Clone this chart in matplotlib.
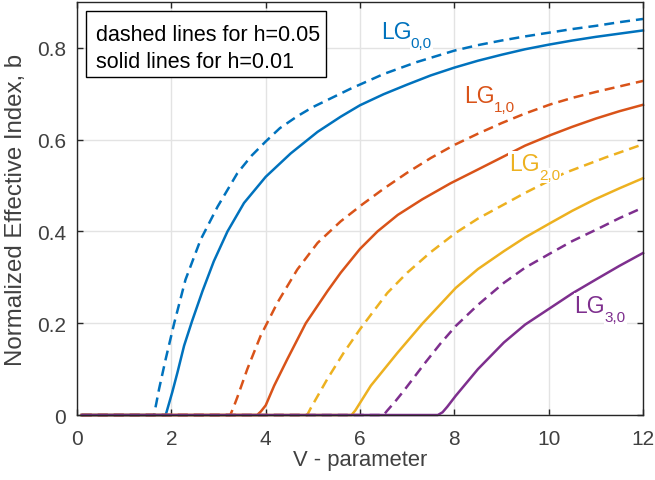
import matplotlib
matplotlib.use('Agg')
import matplotlib.pyplot as plt
from matplotlib.patches import Rectangle

plt.rcParams['font.family'] = ['Liberation Sans', 'DejaVu Sans']

# LG(0,0)
v00_h05 = [0.1, 1.63, 1.68, 1.74, 1.88, 2.06, 2.30, 2.62, 2.98, 3.40, 3.7, 4.0, 4.3, 4.67, 5.0, 5.38, 5.8,
           6.5, 7.2, 8.0, 8.5, 9.0, 9.5, 10.0, 10.5, 11.0, 11.5, 12.0]
b00_h05 = [0, 0, 0.025, 0.057, 0.122, 0.2, 0.295, 0.382, 0.454, 0.527, 0.565, 0.596, 0.625, 0.651, 0.671, 0.69, 0.711,
           0.743, 0.769, 0.794, 0.806, 0.816, 0.825, 0.833, 0.841, 0.848, 0.856, 0.863]
v00_h01 = [0.1, 1.88, 1.95, 2.02, 2.13, 2.27, 2.44, 2.66, 2.90, 3.19, 3.54, 4.0, 4.53, 5.10, 5.59, 6.0,
           6.5, 7.0, 7.5, 8.0, 8.5, 9.0, 9.5, 10.0, 10.5, 11.0, 11.5, 12.0]
b00_h01 = [0, 0, 0.025, 0.05, 0.093, 0.151, 0.205, 0.27, 0.335, 0.4, 0.462, 0.519, 0.57, 0.617, 0.65, 0.675,
           0.699, 0.72, 0.74, 0.757, 0.772, 0.785, 0.797, 0.807, 0.816, 0.824, 0.831, 0.838]

# LG(1,0)
v10_h05 = [0.1, 3.25, 3.33, 3.40, 3.61, 3.89, 4.25, 4.67, 5.10, 5.59, 6.05, 6.5, 7.0, 7.5, 7.99,
           8.5, 9.0, 9.5, 10.04, 10.5, 11.0, 11.5, 12.0]
b10_h05 = [0, 0, 0.02, 0.039, 0.1, 0.172, 0.245, 0.317, 0.375, 0.422, 0.459, 0.493, 0.528, 0.56, 0.588,
           0.613, 0.636, 0.657, 0.677, 0.691, 0.704, 0.716, 0.728]
v10_h01 = [0.1, 3.82, 3.9, 4.0, 4.18, 4.46, 4.85, 5.31, 5.59, 6.0, 6.37, 6.8, 7.32, 7.92, 8.5,
           9.0, 9.5, 10.04, 10.5, 11.0, 11.5, 12.0]
b10_h01 = [0, 0, 0.008, 0.021, 0.064, 0.122, 0.2, 0.27, 0.31, 0.362, 0.4, 0.436, 0.47, 0.505, 0.535,
           0.561, 0.587, 0.61, 0.628, 0.646, 0.662, 0.676]

# LG(2,0)
v20_h05 = [0.1, 4.88, 4.95, 5.31, 5.65, 6.0, 6.3, 6.58, 7.0, 7.5, 8.03, 8.5, 8.84, 9.5, 10.33, 11.2, 12.0]
b20_h05 = [0, 0, 0.014, 0.079, 0.135, 0.187, 0.228, 0.266, 0.31, 0.355, 0.397, 0.428, 0.447, 0.484, 0.527, 0.561, 0.59]
v20_h01 = [0.1, 5.82, 5.9, 6.23, 6.79, 7.33, 8.03, 8.5, 9.05, 9.5, 10.03, 10.5, 10.96, 11.5, 12.0]
b20_h01 = [0, 0, 0.01, 0.064, 0.135, 0.2, 0.277, 0.318, 0.357, 0.387, 0.418, 0.445, 0.469, 0.494, 0.516]

# LG(3,0)
v30_h05 = [0.1, 6.5, 6.58, 6.75, 6.93, 7.39, 7.7, 8.03, 8.5, 9.05, 9.5, 10.03, 10.5, 11.03, 11.5, 12.0]
b30_h05 = [0, 0, 0.01, 0.03, 0.053, 0.115, 0.155, 0.194, 0.24, 0.288, 0.321, 0.352, 0.379, 0.405, 0.429, 0.452]
v30_h01 = [0.1, 7.65, 7.75, 7.85, 8.03, 8.5, 9.05, 9.5, 10.03, 10.5, 11.03, 11.5, 12.0]
b30_h01 = [0, 0, 0.006, 0.018, 0.042, 0.1, 0.158, 0.197, 0.233, 0.265, 0.297, 0.325, 0.353]

modes = ['0,0', '1,0', '2,0', '3,0']
colors = ['#0072BD', '#D95319', '#EDB120', '#7E2F8E']
curves = [
    (v00_h05, b00_h05, v00_h01, b00_h01),
    (v10_h05, b10_h05, v10_h01, b10_h01),
    (v20_h05, b20_h05, v20_h01, b20_h01),
    (v30_h05, b30_h05, v30_h01, b30_h01),
]
# baseline-left of each mode name (V, b)
label_pos = [(6.44, 0.822), (8.21, 0.683), (9.16, 0.534), (10.55, 0.2245)]

fig = plt.figure(figsize=(6.55, 4.81), dpi=100)
ax = fig.add_axes([0.1176, 0.1351, 0.8641, 0.8587])

for (vd, bd, vs, bs), c in zip(curves, colors):
    ax.plot(vd, bd, color=c, lw=1.8, dashes=(4, 2.4), clip_on=False)
    ax.plot(vs, bs, '-', color=c, lw=1.8, clip_on=False)

white = dict(facecolor='white', edgecolor='none', pad=0.5)
for m, c, (x, y) in zip(modes, colors, label_pos):
    ax.text(x, y, 'LG', color=c, fontsize=16.5, va='baseline', ha='left', bbox=white)
    ax.annotate(m, xy=(x, y), xytext=(21.6, -6.8), textcoords='offset points',
                color=c, fontsize=11, va='baseline', ha='left', bbox=white)

# note box in the top-left corner
ax.add_patch(Rectangle((0.0159, 0.818), 0.424, 0.16, transform=ax.transAxes,
                       facecolor='white', edgecolor='black', lw=1, zorder=5))
ax.text(0.0336, 0.909, 'dashed lines for h=0.05', transform=ax.transAxes,
        fontsize=15.5, va='baseline', ha='left', zorder=6)
ax.text(0.0336, 0.842, 'solid lines for h=0.01', transform=ax.transAxes,
        fontsize=15.5, va='baseline', ha='left', zorder=6)

ax.set_xlim(0, 12)
ax.set_ylim(0, 0.9)
ax.set_xticks([0, 2, 4, 6, 8, 10, 12])
ax.set_yticks([0, 0.2, 0.4, 0.6, 0.8])
ax.set_yticklabels(['0', '0.2', '0.4', '0.6', '0.8'])
ax.grid(True, color='#e3e3e3', lw=1)
ax.set_axisbelow(True)
ax.tick_params(direction='in', top=True, right=True, length=4, width=1,
               labelsize=15, labelcolor='#404040', color='#262626')
ax.tick_params(axis='x', pad=10)
ax.tick_params(axis='y', pad=8)
for s in ax.spines.values():
    s.set_color('#262626')
    s.set_linewidth(1)

ax.set_xlabel('V - parameter', fontsize=15.8, color='#404040', labelpad=1)
ax.set_ylabel('Normalized Effective Index, b', fontsize=17.3, color='#404040', labelpad=7)

fig.savefig('out.png', dpi=100)
